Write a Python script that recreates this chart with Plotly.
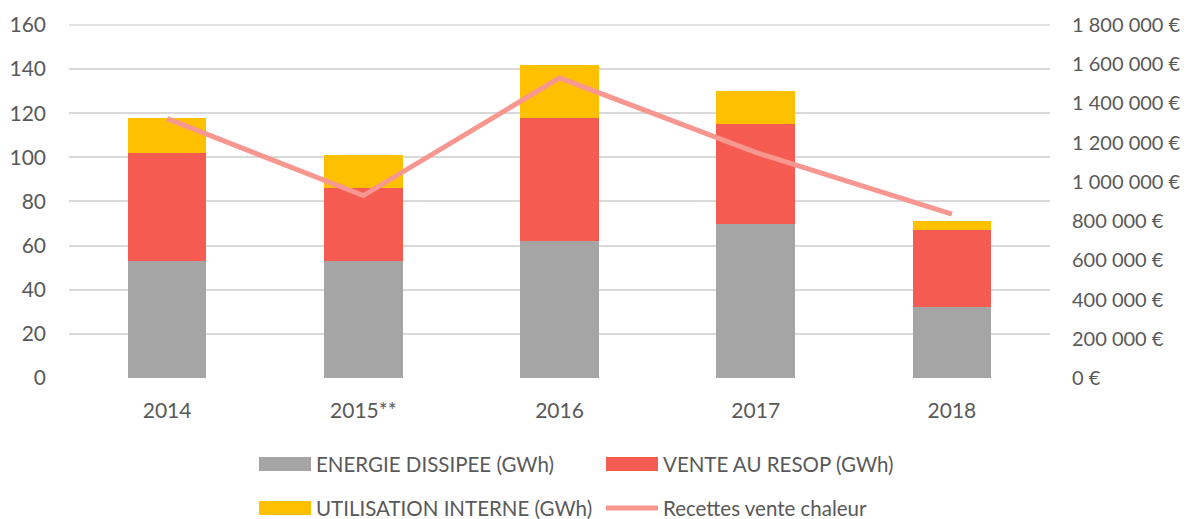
import plotly.graph_objects as go

# data
years = ["2014", "2015**", "2016", "2017", "2018"]
energie_dissipee = [53, 53, 62, 70, 32]
vente_resop = [49, 33, 56, 45, 35]
utilisation_interne = [16, 15, 24, 15, 4]
recettes = [1322000, 930000, 1530000, 1150000, 835000]

bar_series = [
    ("ENERGIE DISSIPEE (GWh)", energie_dissipee, "#A5A5A5"),
    ("VENTE AU RESOP (GWh)", vente_resop, "#F65B51"),
    ("UTILISATION INTERNE (GWh)", utilisation_interne, "#FFC000"),
]
line_name = "Recettes vente chaleur"
line_color = "#F89790"

FONT = "Lato, sans-serif"
TXT = "#595959"
GRID = "#D9D9D9"

# page body adds an 8px offset, so the figure is a bit smaller than the window
W, H = 1181, 511
PL, PR, PT, PB = 61, 139, 16, 141
plot_w = W - PL - PR
plot_h = H - PT - PB

fig = go.Figure()

for name, vals, color in bar_series:
    fig.add_trace(go.Bar(
        x=years, y=vals, name=name,
        marker=dict(color=color, line=dict(width=0)),
        yaxis="y",
    ))

fig.add_trace(go.Scatter(
    x=years, y=recettes, name=line_name, mode="lines",
    line=dict(color=line_color, width=5),
    yaxis="y2",
))

top = 160.4
fig.update_layout(
    width=W, height=H,
    barmode="stack", bargap=0.6,
    showlegend=False,
    plot_bgcolor="white", paper_bgcolor="white",
    margin=dict(l=PL, r=PR, t=PT, b=PB, autoexpand=False),
    font=dict(family=FONT, size=21, color=TXT),
    separators=", ",
    xaxis=dict(showgrid=False, showline=False, ticks="", automargin=False,
               ticklabelstandoff=18, tickfont=dict(size=21, color=TXT)),
    yaxis=dict(range=[0, top], dtick=20, showgrid=True, gridcolor=GRID, gridwidth=1.5,
               zeroline=False, showline=False, ticks="", ticklabelstandoff=22, automargin=False,
               tickfont=dict(size=21, color=TXT)),
    yaxis2=dict(range=[0, 1800000 * top / 160], dtick=200000, overlaying="y", side="right",
                showgrid=False, zeroline=False, showline=False, ticks="", automargin=False,
                tickformat=",d", ticksuffix=" €", ticklabelstandoff=21,
                tickfont=dict(size=20, color=TXT)),
)

# top gridline (plotly skips it at the very edge of the range)
fig.add_shape(type="line", xref="paper", yref="y", x0=0, x1=1, y0=160, y1=160,
              line=dict(color=GRID, width=1.5), layer="below")

# custom legend below the plot, two rows like the original (positions in window pixels)
legend_items = [(n, c, "bar") for n, _, c in bar_series] + [(line_name, line_color, "line")]
legend_pos = [(259, 464), (606, 464), (259, 508), (606, 508)]


def px_to_paper(px, py):
    fx, fy = px - 8, py - 8
    return (fx - PL) / plot_w, (H - PB - fy) / plot_h


for (name, color, kind), (px, py) in zip(legend_items, legend_pos):
    x0, yc = px_to_paper(px, py)
    x1, _ = px_to_paper(px + 52, py)
    xt, _ = px_to_paper(px + 55, py)
    dy = 7 / plot_h
    if kind == "bar":
        fig.add_shape(type="rect", xref="paper", yref="paper",
                      x0=x0, x1=x1, y0=yc - dy, y1=yc + dy,
                      fillcolor=color, line=dict(width=0), layer="above")
    else:
        fig.add_shape(type="line", xref="paper", yref="paper",
                      x0=x0, x1=x1, y0=yc, y1=yc,
                      line=dict(color=color, width=5), layer="above")
    fig.add_annotation(text=name, xref="paper", yref="paper",
                       x=xt, y=yc, xanchor="left", yanchor="middle",
                       showarrow=False, font=dict(size=20.5, color=TXT))

fig.write_html("out.html")
